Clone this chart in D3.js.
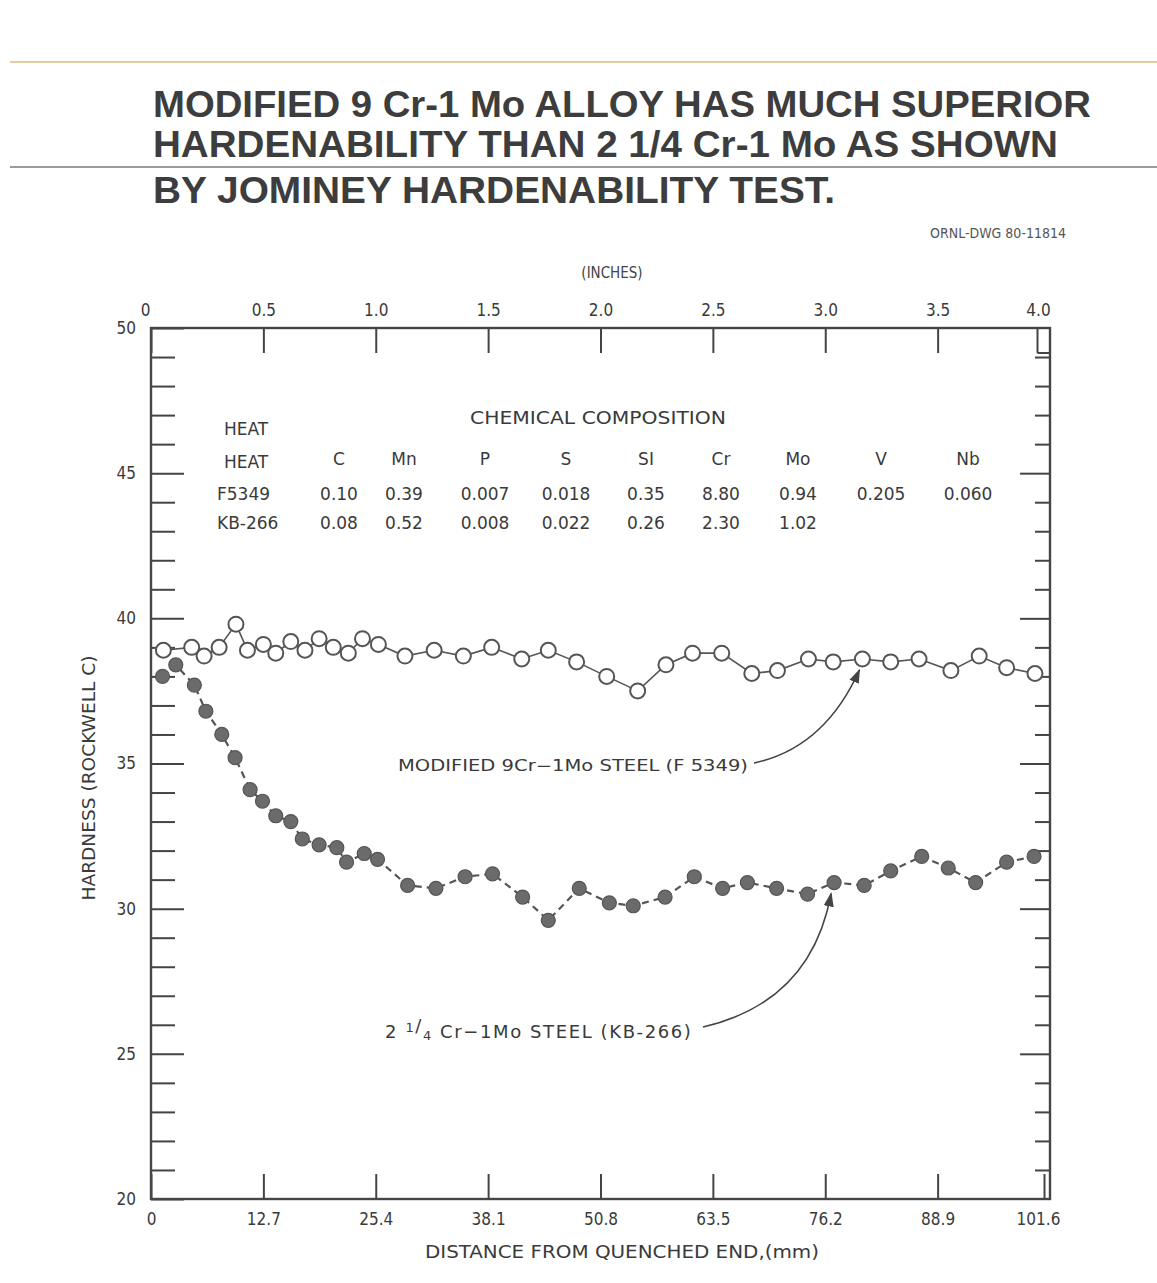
<!DOCTYPE html>
<html>
<head>
<meta charset="utf-8">
<script src="https://cdn.jsdelivr.net/npm/d3@7"></script>
<style>
  body { margin: 0; background: #fff; }
  svg { display: block; }
  .tick text { font-family: 'Liberation Sans Narrow', 'DejaVu Sans Condensed', 'Liberation Sans', sans-serif; font-size: 17px; fill: #3a3a3a; }
  .tick line { stroke: #444; stroke-width: 2; }
  .domain { display: none; }
</style>
</head>
<body>
<div class="chart"></div>
<script>
// data
var titleLines = [
  "MODIFIED 9 Cr-1 Mo ALLOY HAS MUCH SUPERIOR",
  "HARDENABILITY THAN 2 1/4 Cr-1 Mo AS SHOWN",
  "BY JOMINEY HARDENABILITY TEST."
];
var elements = ["C", "Mn", "P", "S", "SI", "Cr", "Mo", "V", "Nb"];
var heats = ["F5349", "KB-266"];
var compF5349 = ["0.10", "0.39", "0.007", "0.018", "0.35", "8.80", "0.94", "0.205", "0.060"];
var compKB266 = ["0.08", "0.52", "0.008", "0.022", "0.26", "2.30", "1.02", "", ""];

var inchTicks = [0, 0.5, 1.0, 1.5, 2.0, 2.5, 3.0, 3.5, 4.0];
var mmTicks = [0, 12.7, 25.4, 38.1, 50.8, 63.5, 76.2, 88.9, 101.6];
var hrcTicks = [20, 25, 30, 35, 40, 45, 50];

// modified 9Cr-1Mo (open circles)
var f5349Dist = [1.4, 4.6, 6.0, 7.7, 9.6, 10.9, 12.7, 14.1, 15.8, 17.4, 19.0, 20.6, 22.3, 23.9, 25.7,
  28.7, 32.0, 35.3, 38.5, 41.9, 44.9, 48.1, 51.5, 55.0, 58.2, 61.2, 64.5, 67.9, 70.8, 74.3,
  77.1, 80.4, 83.6, 86.8, 90.4, 93.6, 96.7, 99.9];
var f5349Hard = [38.9, 39.0, 38.7, 39.0, 39.8, 38.9, 39.1, 38.8, 39.2, 38.9, 39.3, 39.0, 38.8, 39.3, 39.1,
  38.7, 38.9, 38.7, 39.0, 38.6, 38.9, 38.5, 38.0, 37.5, 38.4, 38.8, 38.8, 38.1, 38.2, 38.6,
  38.5, 38.6, 38.5, 38.6, 38.2, 38.7, 38.3, 38.1];

// 2 1/4Cr-1Mo (filled circles)
var kb266Dist = [1.3, 2.8, 4.9, 6.2, 8.0, 9.5, 11.2, 12.6, 14.1, 15.8, 17.1, 19.0, 21.0, 22.1, 24.1,
  25.6, 29.0, 32.2, 35.5, 38.6, 42.0, 44.9, 48.4, 51.8, 54.5, 58.1, 61.4, 64.6, 67.4, 70.7,
  74.2, 77.2, 80.6, 83.6, 87.1, 90.1, 93.2, 96.7, 99.8];
var kb266Hard = [38.0, 38.4, 37.7, 36.8, 36.0, 35.2, 34.1, 33.7, 33.2, 33.0, 32.4, 32.2, 32.1, 31.6, 31.9,
  31.7, 30.8, 30.7, 31.1, 31.2, 30.4, 29.6, 30.7, 30.2, 30.1, 30.4, 31.1, 30.7, 30.9, 30.7,
  30.5, 30.9, 30.8, 31.3, 31.8, 31.4, 30.9, 31.6, 31.8];

var svgWidth = 1157, svgHeight = 1283;
var margin = { top: 328, right: 107, bottom: 84, left: 151 };
var chartWidth = svgWidth - margin.left - margin.right;
var chartHeight = svgHeight - margin.top - margin.bottom;
var ink = "#454545";
var labelFont = "'Liberation Sans Narrow', 'DejaVu Sans Condensed', 'Liberation Sans', sans-serif";
var letterFont = "'DejaVu Sans', sans-serif";

var svg = d3.select(".chart").append("svg")
  .attr("width", svgWidth)
  .attr("height", svgHeight);

svg.append("rect").attr("width", svgWidth).attr("height", svgHeight).attr("fill", "#fff");

// header rules
svg.append("line").attr("x1", 10).attr("x2", svgWidth).attr("y1", 62).attr("y2", 62)
  .attr("stroke", "#e2cf9f").attr("stroke-width", 2);
svg.append("line").attr("x1", 10).attr("x2", svgWidth).attr("y1", 167).attr("y2", 167)
  .attr("stroke", "#7a7a7a").attr("stroke-width", 1.5);

// title
var titleY = [117, 157, 203];
var titleLen = [938, 905, 682];
svg.selectAll(".title").data(titleLines).enter().append("text")
  .attr("class", "title")
  .attr("x", 153)
  .attr("y", (d, i) => titleY[i])
  .attr("textLength", (d, i) => titleLen[i])
  .attr("lengthAdjust", "spacingAndGlyphs")
  .attr("font-family", "'Liberation Sans', Arial, sans-serif")
  .attr("font-weight", "bold")
  .attr("font-size", 37)
  .attr("fill", "#3d3d3d")
  .text(d => d);

svg.append("text")
  .attr("x", 1066).attr("y", 238)
  .attr("text-anchor", "end")
  .attr("font-family", labelFont)
  .attr("font-size", 14)
  .attr("fill", "#555")
  .text("ORNL-DWG 80-11814");

var chartGroup = svg.append("g")
  .attr("transform", `translate(${margin.left}, ${margin.top})`);

// scales
var xScale = d3.scaleLinear().domain([0, 101.6]).range([0, chartWidth]);
var xInch = d3.scaleLinear().domain([0, 4]).range([0, chartWidth]);
var yScale = d3.scaleLinear().domain([20, 50]).range([chartHeight, 0]);

var oneDec = d => d === 0 ? "0" : d3.format(".1f")(d);

// left axis, ticks point inward
var leftAxis = chartGroup.append("g")
  .call(d3.axisLeft(yScale).tickValues(d3.range(20, 51)).tickSize(-24).tickPadding(15)
    .tickFormat(d => hrcTicks.indexOf(d) >= 0 ? d : ""));
leftAxis.selectAll(".tick line").filter(d => d % 5 === 0).attr("x2", 33);
leftAxis.selectAll(".tick text").attr("font-family", letterFont).attr("font-size", 16);

// right axis
var rightAxis = chartGroup.append("g")
  .attr("transform", `translate(${chartWidth}, 0)`)
  .call(d3.axisRight(yScale).tickValues(d3.range(21, 50)).tickSize(-15).tickFormat(""));
rightAxis.selectAll(".tick line").filter(d => d % 5 === 0).attr("x2", -30);

// top axis in inches
var topAxis = chartGroup.append("g")
  .call(d3.axisTop(xInch).tickValues(inchTicks).tickSize(-25).tickPadding(12).tickFormat(oneDec));
topAxis.selectAll(".tick").filter(d => d === 4).select("line").attr("transform", "translate(-13,0)");
topAxis.selectAll(".tick").filter(d => d === 4).append("line")
  .attr("x1", -13).attr("x2", 0).attr("y1", 25).attr("y2", 25);
topAxis.selectAll(".tick").filter(d => d === 4).select("text").attr("dx", -12);
topAxis.selectAll(".tick").filter(d => d === 0).select("text").attr("dx", -6);

// bottom axis in mm
var bottomAxis = chartGroup.append("g")
  .attr("transform", `translate(0, ${chartHeight})`)
  .call(d3.axisBottom(xScale).tickValues(mmTicks).tickSize(-25).tickPadding(14).tickFormat(oneDec));
bottomAxis.selectAll(".tick").filter(d => d === 101.6).select("line").attr("transform", "translate(-6,0)");
bottomAxis.selectAll(".tick").filter(d => d === 101.6).select("text").attr("dx", -12);

// frame
chartGroup.append("rect")
  .attr("width", chartWidth).attr("height", chartHeight)
  .attr("fill", "none").attr("stroke", ink).attr("stroke-width", 2.4);

// axis titles
svg.append("text")
  .attr("x", 612).attr("y", 278)
  .attr("text-anchor", "middle")
  .attr("font-family", labelFont).attr("font-size", 15).attr("fill", "#444")
  .text("(INCHES)");

svg.append("text")
  .attr("x", 622).attr("y", 1258)
  .attr("text-anchor", "middle")
  .attr("textLength", 394).attr("lengthAdjust", "spacingAndGlyphs")
  .attr("font-family", labelFont).attr("font-size", 18).attr("fill", "#3a3a3a")
  .text("DISTANCE FROM QUENCHED END,(mm)");

svg.append("text")
  .attr("transform", "translate(95, 778) rotate(-90)")
  .attr("text-anchor", "middle")
  .attr("textLength", 245).attr("lengthAdjust", "spacingAndGlyphs")
  .attr("font-family", labelFont).attr("font-size", 17).attr("fill", "#3a3a3a")
  .text("HARDNESS (ROCKWELL C)");

// chemical composition table
var colX = [339, 404, 485, 566, 646, 721, 798, 881, 968];
var table = svg.append("g")
  .attr("font-family", letterFont).attr("font-size", 17).attr("fill", "#3a3a3a");

table.append("text").attr("x", 224).attr("y", 435).text("HEAT");
table.append("text").attr("x", 598).attr("y", 424).attr("text-anchor", "middle")
  .attr("textLength", 256).attr("lengthAdjust", "spacingAndGlyphs")
  .text("CHEMICAL COMPOSITION");
table.append("text").attr("x", 224).attr("y", 468).text("HEAT");
table.selectAll(".el").data(elements).enter().append("text")
  .attr("x", (d, i) => colX[i]).attr("y", 465).attr("text-anchor", "middle")
  .text(d => d);

var rowY = [500, 529];
[compF5349, compKB266].forEach(function (row, r) {
  table.append("text").attr("x", 217).attr("y", rowY[r]).text(heats[r]);
  table.selectAll(".row" + r).data(row).enter().append("text")
    .attr("x", (d, i) => colX[i]).attr("y", rowY[r]).attr("text-anchor", "middle")
    .text(d => d);
});

// series
var f5349 = f5349Dist.map((d, i) => ({ x: d, y: f5349Hard[i] }));
var kb266 = kb266Dist.map((d, i) => ({ x: d, y: kb266Hard[i] }));

var line = d3.line().x(d => xScale(d.x)).y(d => yScale(d.y));

chartGroup.append("path")
  .datum(kb266)
  .attr("d", line)
  .attr("fill", "none").attr("stroke", "#555").attr("stroke-width", 2.2)
  .attr("stroke-dasharray", "7,5");

chartGroup.append("g").selectAll("circle")
  .data(kb266).enter().append("circle")
  .attr("cx", d => xScale(d.x))
  .attr("cy", d => yScale(d.y))
  .attr("r", 7)
  .attr("fill", "#6b6b6b").attr("stroke", "#555").attr("stroke-width", 1.2);

chartGroup.append("path")
  .datum(f5349)
  .attr("d", line)
  .attr("fill", "none").attr("stroke", "#555").attr("stroke-width", 1.6);

chartGroup.append("g").selectAll("circle")
  .data(f5349).enter().append("circle")
  .attr("cx", d => xScale(d.x))
  .attr("cy", d => yScale(d.y))
  .attr("r", 7.5)
  .attr("fill", "#fff").attr("stroke", "#555").attr("stroke-width", 2);

// annotations with curved arrows
svg.append("defs").append("marker")
  .attr("id", "arrow").attr("viewBox", "0 0 10 10")
  .attr("refX", 9).attr("refY", 5)
  .attr("markerWidth", 9).attr("markerHeight", 9)
  .attr("orient", "auto")
  .append("path").attr("d", "M0,1.5 L10,5 L0,8.5 z").attr("fill", "#444");

function arrowTo(sx, sy, pt, bend, lift) {
  var px = margin.left + xScale(pt.x) - 3;
  var py = margin.top + yScale(pt.y) + 11;
  svg.append("path")
    .attr("d", `M${sx},${sy} Q${px - bend},${sy - lift} ${px},${py}`)
    .attr("fill", "none").attr("stroke", "#444").attr("stroke-width", 1.6)
    .attr("marker-end", "url(#arrow)");
}

svg.append("text")
  .attr("x", 398).attr("y", 771)
  .attr("textLength", 350).attr("lengthAdjust", "spacingAndGlyphs")
  .attr("font-family", letterFont).attr("font-size", 15).attr("fill", "#3a3a3a")
  .text("MODIFIED 9Cr\u22121Mo STEEL (F 5349)");
arrowTo(754, 763, f5349[31], 35, 15);

// KB-266 label with the stacked fraction
var kbLabel = svg.append("text")
  .attr("x", 385).attr("y", 1038)
  .attr("font-family", letterFont).attr("font-size", 18).attr("letter-spacing", 1.6)
  .attr("fill", "#3a3a3a");
kbLabel.append("tspan").text("2 ");
kbLabel.append("tspan").attr("font-size", 13).attr("dy", -6).text("1");
kbLabel.append("tspan").attr("font-size", 18).attr("dy", 0).text("/");
kbLabel.append("tspan").attr("font-size", 13).attr("dy", 8).text("4");
kbLabel.append("tspan").attr("dy", -2).text(" Cr\u22121Mo STEEL (KB-266)");
arrowTo(703, 1027, kb266[31], 20, 25);
</script>
</body>
</html>
